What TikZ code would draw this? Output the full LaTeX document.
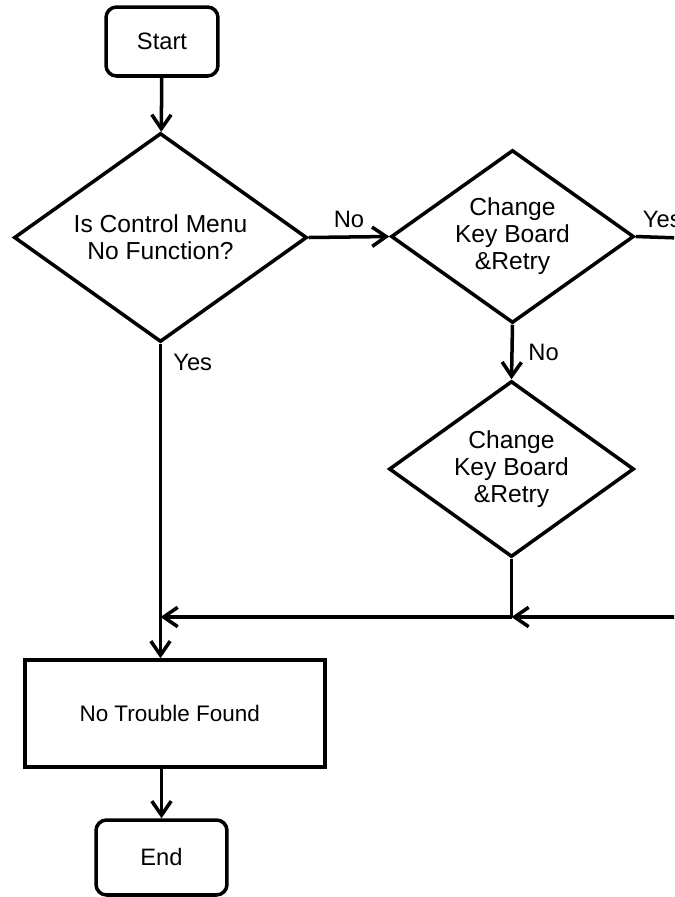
\documentclass[tikz,border=0pt]{standalone}
\usepackage{fontspec}
\setmainfont{Liberation Sans}
\usetikzlibrary{shapes.geometric,arrows.meta}
\begin{document}
\begin{tikzpicture}[x=0.02cm,y=-0.02cm,line width=2pt,
	font=\fontsize{13.5}{15.3}\selectfont,
	>={Straight Barb[length=8pt,width=11pt,line width=2pt]},
	termbox/.style={draw,rounded corners=6pt,inner sep=0pt},
	procbox/.style={draw,inner sep=0pt,font=\fontsize{12.8}{15.3}\selectfont},
	askbox/.style={draw,diamond,aspect=1.4,inner sep=0pt,align=center,font=\fontsize{14}{15.3}\selectfont}]
	\useasboundingbox (0,0) rectangle (674,897);
	\clip (0,0) rectangle (674,897);
	% Các khối
	\node[termbox,minimum width=2.24cm,minimum height=1.38cm] (start) at (162,41.5) {Start};
	\node[askbox,minimum width=5.86cm,minimum height=4.18cm] (ask1) at (160.5,237.5) {Is Control Menu\\No Function?};
	\node[askbox,minimum width=4.86cm,minimum height=3.46cm] (ask2) at (512.5,236.5) {Change\\Key Board\\\&Retry};
	\node[askbox,minimum width=4.9cm,minimum height=3.52cm] (ask3) at (511.5,469) {Change\\Key Board\\\&Retry};
	\node[procbox,minimum width=6cm,minimum height=2.14cm] (found) at (175,713.5) {\hspace*{-6pt}No Trouble Found};
	\node[termbox,minimum width=2.62cm,minimum height=1.5cm] (stop) at (161.5,857.5) {End};
	% Điểm nối
	\coordinate (yesR) at (680,238);
	\coordinate (backR) at (680,617);
	\coordinate (joinA) at (ask3.south |- backR);
	\coordinate (joinB) at (ask1.south |- backR);
	% Các mũi tên
	\draw[->] (start) -- (ask1);
	\draw[->] (ask1.east) -- node[above=1pt]{No} (ask2.west);
	\draw (ask2.east) -- node[above=1pt,pos=0.6]{Yes} (yesR);
	\draw[->] (ask2.south) -- node[right=5pt]{No} (ask3.north);
	\draw (ask3.south) -- (joinA);
	\draw[->] (backR) -- (joinA);
	\draw[->] (joinA) -- (joinB);
	\draw[->] (ask1.south) -- node[pos=0.06,right=3pt]{Yes} (found.north -| ask1.south);
	\draw[->] (found.south -| stop.north) -- (stop.north);
\end{tikzpicture}
\end{document}
